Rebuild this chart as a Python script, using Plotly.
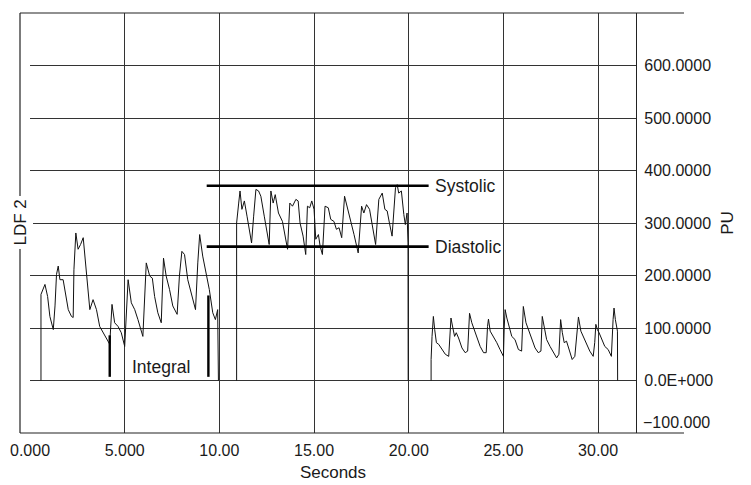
import plotly.graph_objects as go

# ---- data ----
seg1_t = [0.58, 0.58, 0.79, 0.93, 1.05, 1.23, 1.32, 1.40, 1.49, 1.58, 1.75, 1.84, 2.02, 2.19, 2.28,
          2.32, 2.42, 2.54, 2.67, 2.81, 2.95, 3.02, 3.16, 3.33, 3.51, 3.68, 3.86, 4.04, 4.21, 4.33,
          4.47, 4.65, 4.82, 5.00, 5.05, 5.18, 5.35, 5.53, 5.70, 5.96, 6.14, 6.32, 6.46, 6.58, 6.75,
          6.93, 7.05, 7.19, 7.37, 7.54, 7.77, 7.89, 8.02, 8.16, 8.33, 8.51, 8.74, 8.86, 8.96, 9.12,
          9.30, 9.47, 9.65, 9.79, 9.91, 9.95]
seg1_v = [0, 164, 183, 160, 122, 97, 142, 202, 218, 192, 192, 170, 135, 122, 120,
          211, 281, 250, 259, 272, 211, 186, 135, 154, 135, 103, 91, 78, 69, 145,
          110, 103, 91, 65, 97, 192, 148, 135, 116, 84, 224, 199, 195, 160, 129,
          110, 233, 199, 173, 142, 126, 199, 246, 240, 192, 167, 135, 224, 278, 237,
          205, 173, 129, 116, 135, 0]

seg2_t = [10.91, 10.91, 11.02, 11.09, 11.19, 11.32, 11.46, 11.58, 11.70, 11.81, 11.93, 12.07, 12.19,
          12.37, 12.54, 12.63, 12.72, 12.84, 12.95, 13.12, 13.33, 13.47, 13.60, 13.72, 13.86, 14.04,
          14.16, 14.26, 14.42, 14.56, 14.65, 14.77, 14.88, 15.00, 15.09, 15.23, 15.32, 15.44, 15.58,
          15.75, 15.88, 16.05, 16.18, 16.32, 16.46, 16.61, 16.75, 16.93, 17.11, 17.33, 17.51, 17.63,
          17.77, 17.93, 18.07, 18.25, 18.42, 18.60, 18.74, 18.86, 18.98, 19.12, 19.30, 19.39, 19.47,
          19.61, 19.74, 19.82, 19.91, 19.96, 19.97]
seg2_v = [0, 300, 338, 361, 326, 342, 313, 288, 262, 313, 364, 361, 351,
          313, 281, 259, 361, 338, 354, 319, 303, 275, 250, 338, 332, 345,
          342, 300, 275, 240, 332, 329, 342, 326, 269, 278, 256, 240, 332,
          329, 307, 303, 288, 291, 272, 351, 332, 307, 278, 243, 332, 319,
          335, 326, 294, 259, 345, 357, 326, 323, 300, 275, 367, 373, 357,
          361, 316, 297, 319, 262, 0]

seg3_t = [21.18, 21.18, 21.23, 21.30, 21.37, 21.46, 21.58, 21.75, 21.93, 22.11, 22.16, 22.23, 22.33,
          22.42, 22.51, 22.63, 22.81, 22.98, 23.11, 23.16, 23.21, 23.33, 23.46, 23.60, 23.77, 23.95,
          24.09, 24.16, 24.21, 24.30, 24.47, 24.65, 24.82, 25.00, 25.04, 25.09, 25.18, 25.32, 25.44,
          25.61, 25.79, 25.96, 26.05, 26.19, 26.32, 26.49, 26.67, 26.84, 26.98, 27.05, 27.14, 27.28,
          27.46, 27.63, 27.81, 27.93, 28.02, 28.11, 28.21, 28.33, 28.51, 28.63, 28.77, 28.89, 28.96,
          29.09, 29.21, 29.39, 29.56, 29.74, 29.82, 29.88, 29.96, 30.05, 30.18, 30.35, 30.53, 30.70,
          30.79, 30.84, 30.91, 31.02, 31.03]
seg3_v = [0, 40, 84, 122, 97, 72, 69, 59, 50, 46, 78, 119, 100,
          84, 91, 81, 62, 53, 56, 91, 128, 110, 97, 84, 65, 53,
          53, 103, 117, 94, 84, 72, 59, 46, 100, 135, 119, 97, 84,
          78, 59, 56, 141, 110, 97, 78, 62, 53, 56, 122, 103, 78,
          65, 53, 43, 50, 116, 91, 72, 75, 53, 40, 46, 97, 121,
          94, 84, 69, 56, 46, 72, 107, 97, 91, 78, 65, 59, 46,
          116, 138, 116, 94, 0]

systolic_level = 371
diastolic_level = 255
level_span = [9.33, 21.05]

integral_t = [4.21, 9.42]
integral_top = [86, 162]
integral_bottom = 7

x_ticks = [0, 5, 10, 15, 20, 25, 30]
x_labels = ["0.000", "5.000", "10.00", "15.00", "20.00", "25.00", "30.00"]
y_ticks = [-100, 0, 100, 200, 300, 400, 500, 600]
y_labels = ["\u2212100.000", "0.0E+000", "100.0000", "200.0000", "300.0000",
            "400.0000", "500.0000", "600.0000"]

FONT = "Liberation Sans, Arial, Helvetica, sans-serif"
INK = "#1a1a1a"

fig = go.Figure()
for t, v in [(seg1_t, seg1_v), (seg2_t, seg2_v), (seg3_t, seg3_v)]:
    fig.add_trace(go.Scatter(x=t, y=v, mode="lines", line=dict(color="#111", width=1),
                             hoverinfo="skip", showlegend=False))

for lvl in (systolic_level, diastolic_level):
    fig.add_trace(go.Scatter(x=level_span, y=[lvl, lvl], mode="lines",
                             line=dict(color="#000", width=2.6), showlegend=False, hoverinfo="skip"))

for t, top in zip(integral_t, integral_top):
    fig.add_trace(go.Scatter(x=[t, t], y=[integral_bottom, top], mode="lines",
                             line=dict(color="#000", width=2.4), showlegend=False, hoverinfo="skip"))

# frame lines that extend beyond the plotting area
xl, xr = -0.0165, 1.0792
frame = dict(color="#222", width=1.2)
fig.add_shape(type="line", xref="paper", yref="paper", x0=xl, x1=xr, y0=1, y1=1, line=frame)
fig.add_shape(type="line", xref="paper", yref="paper", x0=xl, x1=xr, y0=0, y1=0, line=frame)
fig.add_shape(type="line", xref="paper", yref="paper", x0=xl, x1=xl, y0=0, y1=1, line=frame)

fig.add_annotation(text="LDF 2", xref="paper", yref="y", x=xl, y=301, textangle=-90,
                   xanchor="center", yanchor="middle",
                   showarrow=False, bgcolor="white", font=dict(family=FONT, size=17, color=INK),
                   borderpad=3)
fig.add_annotation(text="Systolic", x=21.3, y=systolic_level, xanchor="left", showarrow=False,
                   font=dict(family=FONT, size=17.5, color=INK))
fig.add_annotation(text="Diastolic", x=21.3, y=diastolic_level, xanchor="left", showarrow=False,
                   font=dict(family=FONT, size=17.5, color=INK))
fig.add_annotation(text="Integral", x=6.92, y=25, showarrow=False,
                   font=dict(family=FONT, size=17.5, color=INK))
# lowest y label sits just above the bottom edge in the reference
fig.add_annotation(text=y_labels[0], xref="paper", yref="y", x=1.0075, y=y_ticks[0],
                   xanchor="left", yanchor="bottom", showarrow=False,
                   font=dict(family=FONT, size=16, color=INK))

# page body has an 8px margin: shrink figure so the plot lands where the reference has it
fig.update_layout(
    width=743, height=477,
    margin=dict(l=22, r=115, t=5, b=52, autoexpand=False),
    paper_bgcolor="white", plot_bgcolor="white",
    font=dict(family=FONT, color=INK, size=16),
    xaxis=dict(range=[0, 32], tickvals=x_ticks, ticktext=x_labels, showgrid=True,
               gridcolor="#333", gridwidth=1, zeroline=False, showline=False, ticks="",
               tickfont=dict(size=16), ticklabelstandoff=6, automargin=False,
               title=dict(text="Seconds", font=dict(size=17), standoff=8)),
    yaxis=dict(range=[-100, 700], side="right", tickvals=y_ticks[1:], ticktext=y_labels[1:],
               showgrid=True, gridcolor="#333", gridwidth=1, zeroline=False,
               showline=True, linecolor="#222", linewidth=1.2, ticks="",
               tickfont=dict(size=16), ticklabelstandoff=4, automargin=False,
               title=dict(text="PU", font=dict(size=17), standoff=8)),
)

fig.write_html("out.html")
